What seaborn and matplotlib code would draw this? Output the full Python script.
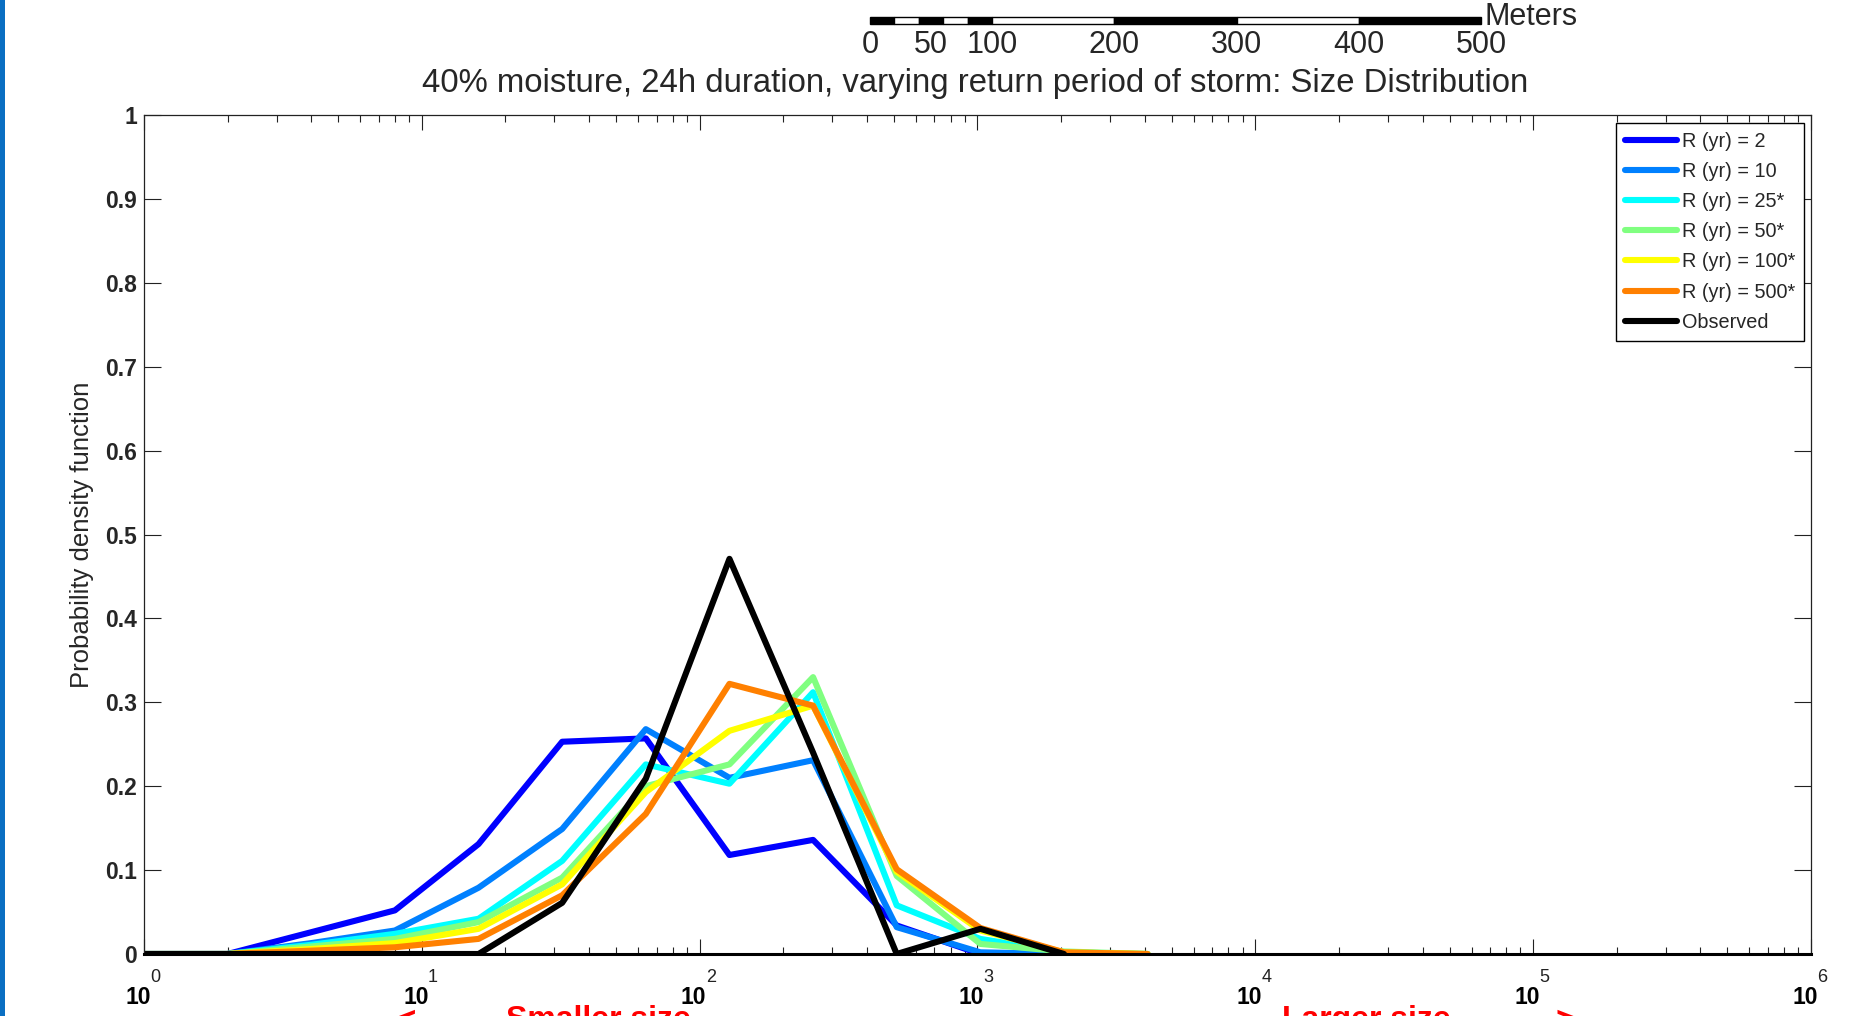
import matplotlib
matplotlib.use("Agg")
import matplotlib.pyplot as plt
import matplotlib.transforms as mtransforms
from matplotlib.patches import Rectangle
import numpy as np
import pandas as pd
import seaborn as sns

# size bins (log2 steps)
size_bins = [1, 2, 4, 8, 16, 32, 64, 128, 256, 512, 1024, 2048, 4096]

r2 = [0, 0, 0.026, 0.052, 0.131, 0.253, 0.257, 0.118, 0.136, 0.034, 0.0, 0.0]
r10 = [0, 0, 0.013, 0.028, 0.079, 0.149, 0.268, 0.210, 0.231, 0.032, 0.002, 0.0]
r25 = [0, 0, 0.011, 0.024, 0.042, 0.111, 0.226, 0.203, 0.312, 0.058, 0.018, 0.002, 0.0]
r50 = [0, 0, 0.009, 0.018, 0.038, 0.091, 0.200, 0.226, 0.330, 0.093, 0.012, 0.003, 0.0]
r100 = [0, 0, 0.006, 0.013, 0.030, 0.083, 0.193, 0.266, 0.296, 0.098, 0.028, 0.002, 0.0]
r500 = [0, 0, 0.004, 0.008, 0.018, 0.070, 0.167, 0.322, 0.296, 0.101, 0.031, 0.002, 0.0]
observed = [0, 0, 0, 0, 0, 0.061, 0.209, 0.471, 0.240, 0.0, 0.030, 0.0]

series_names = ["R (yr) = 2", "R (yr) = 10", "R (yr) = 25*", "R (yr) = 50*",
                "R (yr) = 100*", "R (yr) = 500*", "Observed"]
series_values = [r2, r10, r25, r50, r100, r500, observed]
series_colors = ["#0000FF", "#0080FF", "#00FFFF", "#80FF80", "#FFFF00", "#FF8000", "#000000"]

y_ticks = [0, 0.1, 0.2, 0.3, 0.4, 0.5, 0.6, 0.7, 0.8, 0.9, 1]
y_ticklabels = ["0", "0.1", "0.2", "0.3", "0.4", "0.5", "0.6", "0.7", "0.8", "0.9", "1"]
x_exponents = [0, 1, 2, 3, 4, 5, 6]

# scale bar (meters)
scale_edges = [0, 20, 40, 60, 80, 100, 200, 300, 400, 500]
scale_labels = [0, 50, 100, 200, 300, 400, 500]

rows = []
for name, vals in zip(series_names, series_values):
    for x, v in zip(size_bins, vals):
        rows.append({"size": x, "pdf": v, "series": name})
df = pd.DataFrame(rows)

sns.set_style("white")
plt.rcParams["font.family"] = ["Liberation Sans", "DejaVu Sans"]

W, H = 1872, 1016
fig = plt.figure(figsize=(W / 100, H / 100), dpi=100)
ax = fig.add_axes([144 / W, 1 - 954 / H, (1811 - 144) / W, (954 - 115) / H])

sns.lineplot(data=df, x="size", y="pdf", hue="series", hue_order=series_names,
             palette=dict(zip(series_names, series_colors)), linewidth=4.4,
             legend=False, ax=ax, sort=False)

ax.set_xscale("log")
ax.set_xlim(1, 1e6)
ax.set_ylim(0, 1)
ax.set_yticks(y_ticks)
ax.set_yticklabels(y_ticklabels, fontsize=16.5, fontweight="bold")
ax.set_xticks([10.0 ** e for e in x_exponents])
ax.set_xticklabels([])
ax.xaxis.set_minor_locator(matplotlib.ticker.LogLocator(base=10, subs=np.arange(2, 10)))
ax.xaxis.set_minor_formatter(matplotlib.ticker.NullFormatter())
ax.tick_params(axis="x", which="major", direction="in", length=11, width=0.8,
               top=True, bottom=True, color="#222222")
ax.tick_params(axis="x", which="minor", direction="in", length=5, width=0.8,
               top=True, bottom=True, color="#222222")
ax.tick_params(axis="y", which="major", direction="in", length=12, width=0.8,
               left=True, right=True, pad=5, color="#222222")
for s in ax.spines.values():
    s.set_color("#222222")
    s.set_linewidth(0.9)
ax.spines["bottom"].set_color("black")
ax.spines["bottom"].set_linewidth(2.2)
ax.set_xlabel("")
ax.set_ylabel("Probability density function", fontsize=18.5, labelpad=8)
ax.grid(False)

# MATLAB-style 10^n tick labels
base_tr = ax.get_xaxis_transform()
for e in x_exponents:
    tr_exp = mtransforms.offset_copy(base_tr, fig=fig, x=11, y=-23, units="dots")
    tr_ten = mtransforms.offset_copy(base_tr, fig=fig, x=-6, y=-44, units="dots")
    ax.text(10.0 ** e, 0, str(e), transform=tr_exp, ha="center", va="center",
            fontsize=13, color="#222222", clip_on=False)
    ax.text(10.0 ** e, 0, "10", transform=tr_ten, ha="center", va="center",
            fontsize=16.5, fontweight="bold", color="black", clip_on=False)

leg = ax.legend(handles=list(ax.lines[:len(series_names)]), labels=series_names,
                loc="upper right", bbox_to_anchor=(1 - 7 / 1667, 1 - 8 / 839),
                borderaxespad=0, fontsize=14.3, handlelength=2.6, handletextpad=0.25,
                labelspacing=0.56, borderpad=0.45, fancybox=False, framealpha=1,
                edgecolor="black")
leg.get_frame().set_linewidth(1.0)

# title
fig.text(975 / W, 1 - 83.5 / H, "40% moisture, 24h duration, varying return period of storm: Size Distribution",
         ha="center", va="center", fontsize=23.7)

# scale bar
sb = fig.add_axes([870 / W, 1 - 24 / H, (1481 - 870) / W, 7 / H])
sb.set_xlim(0, 500)
sb.set_ylim(0, 1)
sb.axis("off")
for i in range(len(scale_edges) - 1):
    fc = "black" if i % 2 == 0 else "white"
    if i >= 5:
        fc = "white" if i % 2 == 1 else "black"
    sb.add_patch(Rectangle((scale_edges[i], 0), scale_edges[i + 1] - scale_edges[i], 1,
                           facecolor=fc, edgecolor="black", linewidth=1.0, clip_on=False))
for v in scale_labels:
    sb.text(v, -3.0, str(v), ha="center", va="center", fontsize=22)
sb.text(503, 1.0, "Meters", ha="left", va="center", fontsize=22)

# red size hints at the bottom (cut off by the figure edge)
fig.text(598 / W, 1 - 1005 / H, "Smaller size", ha="center", va="top",
         fontsize=23, fontweight="bold", color="red")
fig.text(1366 / W, 1 - 1005 / H, "Larger size", ha="center", va="top",
         fontsize=23, fontweight="bold", color="red")
fig.text(406 / W, 1 - 1005 / H, "<", ha="center", va="top",
         fontsize=25, fontweight="bold", color="red")
fig.text(1566 / W, 1 - 1005 / H, ">", ha="center", va="top",
         fontsize=25, fontweight="bold", color="red")

# blue strip at the left edge
fig.patches.append(Rectangle((0, 0), 5 / W, 1, transform=fig.transFigure,
                             facecolor="#0A6FC2", edgecolor="none"))

fig.savefig("out.png", dpi=100)
